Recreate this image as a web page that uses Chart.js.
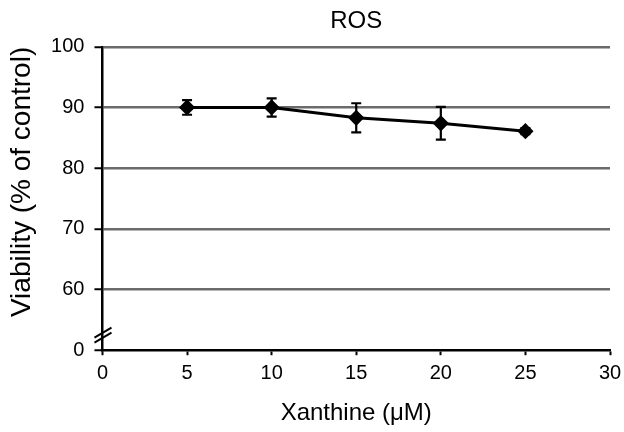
<!DOCTYPE html>
<html>
<head>
<meta charset="utf-8">
<script src="https://cdn.jsdelivr.net/npm/chart.js@4.4.1/dist/chart.umd.min.js"></script>
<style>
  html, body { margin: 0; padding: 0; background: #ffffff; }
  #wrap { width: 624px; height: 432px; }
</style>
</head>
<body>
<div id="wrap"><canvas id="c" width="624" height="432"></canvas></div>
<script>
// ---- data ----
const xanthine = [5, 10, 15, 20, 25];
const viability = [90.0, 90.0, 88.3, 87.4, 86.1];
const sdErr = [1.2, 1.5, 2.4, 2.7, 0.5];
const yTickValues = [50, 60, 70, 80, 90, 100];
const yTickLabels = ['0', '60', '70', '80', '90', '100'];
const xTickValues = [0, 5, 10, 15, 20, 25, 30];

const FONT = "'Liberation Sans', Arial, Helvetica, sans-serif";

const errorBars = {
  id: 'errorBars',
  afterDatasetsDraw(chart) {
    const ctx = chart.ctx, xs = chart.scales.x, ys = chart.scales.y;
    ctx.save();
    ctx.strokeStyle = '#000';
    ctx.lineWidth = 2.2;
    for (let i = 0; i < xanthine.length; i++) {
      const px = xs.getPixelForValue(xanthine[i]);
      const top = ys.getPixelForValue(viability[i] + sdErr[i]);
      const bot = ys.getPixelForValue(viability[i] - sdErr[i]);
      ctx.beginPath();
      ctx.moveTo(px, top); ctx.lineTo(px, bot);
      ctx.moveTo(px - 5, top); ctx.lineTo(px + 5, top);
      ctx.moveTo(px - 5, bot); ctx.lineTo(px + 5, bot);
      ctx.stroke();
    }
    ctx.restore();
  }
};

const axisBreak = {
  id: 'axisBreak',
  afterDraw(chart) {
    const ctx = chart.ctx, xs = chart.scales.x, ys = chart.scales.y;
    const ax = xs.getPixelForValue(0);
    const yc = ys.getPixelForValue(52.5);
    ctx.save();
    ctx.strokeStyle = '#000';
    ctx.lineWidth = 2;
    for (const off of [-2.5, 2.5]) {
      ctx.beginPath();
      ctx.moveTo(ax - 8, yc + off + 5);
      ctx.lineTo(ax + 9, yc + off - 5);
      ctx.stroke();
    }
    ctx.restore();
  }
};

new Chart(document.getElementById('c'), {
  type: 'line',
  data: {
    datasets: [{
      data: xanthine.map((x, i) => ({ x: x, y: viability[i] })),
      borderColor: '#000',
      backgroundColor: '#000',
      borderWidth: 3,
      pointStyle: 'rectRot',
      pointRadius: 6,
      pointHoverRadius: 6,
      tension: 0
    }]
  },
  options: {
    responsive: false,
    animation: false,
    layout: { padding: { left: 4, right: 14, top: 4, bottom: 4 } },
    plugins: {
      legend: { display: false },
      tooltip: { enabled: false },
      title: {
        display: true,
        fullSize: false,
        text: 'ROS',
        color: '#000',
        font: { family: FONT, size: 24, weight: 'normal' },
        padding: { top: 3, bottom: 11 }
      }
    },
    scales: {
      x: {
        type: 'linear',
        min: 0, max: 30,
        afterBuildTicks(axis) { axis.ticks = xTickValues.map(v => ({ value: v })); },
        afterFit(axis) { axis.paddingRight = 0; },
        border: { display: true, color: '#000', width: 2.5 },
        grid: { display: true, drawOnChartArea: false, color: '#000', tickColor: '#000', tickLength: 5, tickWidth: 2 },
        ticks: { color: '#000', font: { family: FONT, size: 20 }, padding: 6, maxRotation: 0 },
        title: {
          display: true, text: 'Xanthine (μM)', color: '#000',
          font: { family: FONT, size: 24 }, padding: { top: 8, bottom: 0 }
        }
      },
      y: {
        type: 'linear',
        min: 50, max: 100,
        afterBuildTicks(axis) { axis.ticks = yTickValues.map(v => ({ value: v })); },
        border: { display: true, color: '#000', width: 2.5 },
        grid: {
          color: (c) => (c.tick && c.tick.value === 50) ? 'rgba(0,0,0,0)' : '#6b6b6b',
          lineWidth: 2.5,
          tickColor: '#000', tickLength: 8, tickWidth: 2
        },
        ticks: {
          color: '#000', font: { family: FONT, size: 20 }, padding: 10,
          callback: (v) => yTickLabels[yTickValues.indexOf(v)]
        },
        title: {
          display: true, align: 'end', text: 'Viability (% of control)', color: '#000',
          font: { family: FONT, size: 28 }, padding: { top: 1.5, bottom: 2 }
        }
      }
    }
  },
  plugins: [errorBars, axisBreak]
});
</script>
</body>
</html>
